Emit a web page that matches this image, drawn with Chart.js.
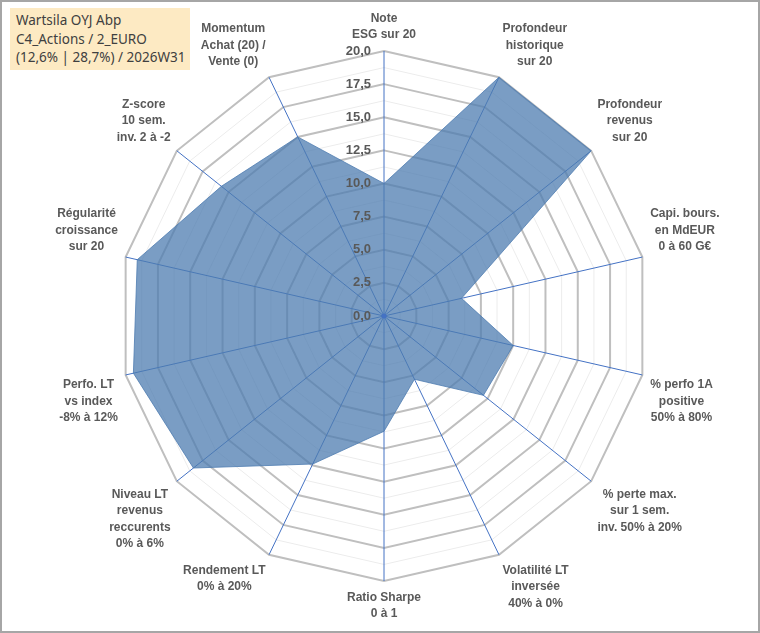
<!DOCTYPE html>
<html>
<head>
<meta charset="utf-8">
<script src="https://cdn.jsdelivr.net/npm/chart.js@4"></script>
<style>
  html, body { margin: 0; padding: 0; background: #fff; }
  #frame { position: relative; width: 756px; height: 629px; border: 2px solid #a6a6a6; }
  #title {
    position: absolute; left: 8px; top: 6px; width: 174px; padding: 3px 0 3px 6px;
    background: #fdeac3; color: #404040; font: 13.5px "Noto Sans", sans-serif; line-height: 18.5px;
  }
</style>
</head>
<body>
<div id="frame">
  <canvas id="radar" width="756" height="629"></canvas>
  <div id="title">Wartsila OYJ Abp<br>C4_Actions / 2_EURO<br>(12,6% | 28,7%) / 2026W31</div>
</div>
<script>
// axes of the radar, clockwise from the top
let labels = [
  ["Note", "ESG sur 20"],
  ["Profondeur", "historique", "sur 20"],
  ["Profondeur", "revenus", "sur 20"],
  ["Capi. bours.", "en MdEUR", "0 à 60 G€"],
  ["% perfo 1A", "positive", "50% à 80%"],
  ["% perte max.", "sur 1 sem.", "inv. 50% à 20%"],
  ["Volatilité LT", "inversée", "40% à 0%"],
  ["Ratio Sharpe", "0 à 1"],
  ["Rendement LT", "0% à 20%"],
  ["Niveau LT", "revenus", "reccurents", "0% à 6%"],
  ["Perfo. LT", "vs index", "-8% à 12%"],
  ["Régularité", "croissance", "sur 20"],
  ["Z-score", "10 sem.", "inv. 2 à -2"],
  ["Momentum", "Achat (20) /", "Vente (0)"]
];
// scores sur 20
let scores = [10, 20, 20, 6, 10, 9.6, 5.3, 8.7, 12.4, 18.4, 19.4, 19.1, 15.7, 15];
// labelled rings
let tickValues = [0, 2.5, 5, 7.5, 10, 12.5, 15, 17.5, 20];

const labelFont = 'bold 12px "Liberation Sans", Arial, sans-serif';
const labelLine = 16.5;

// tick labels left of the vertical axis + centred point labels, drawn above the fill
const overlay = {
  id: 'overlay',
  afterDatasetsDraw(chart) {
    const r = chart.scales.r;
    const c = chart.ctx;
    c.save();
    c.font = 'bold 13px "Liberation Sans", Arial, sans-serif';
    c.fillStyle = '#595959';
    c.textAlign = 'right';
    c.textBaseline = 'middle';
    tickValues.forEach(v => {
      const y = r.yCenter - r.getDistanceFromCenterForValue(v);
      c.fillText(v.toFixed(1).replace('.', ','), r.xCenter - 13, y);
    });

    // point labels: re-use the boxes the scale laid out, but centre each line
    c.font = labelFont;
    c.textAlign = 'center';
    (r._pointLabelItems || []).forEach((item, i) => {
      const lines = labels[i];
      const cx = (item.left + item.right) / 2;
      const cy = (item.top + item.bottom) / 2;
      const y0 = cy - (lines.length - 1) * labelLine / 2;
      lines.forEach((t, k) => c.fillText(t, cx, y0 + k * labelLine));
    });

    c.fillStyle = '#4472c4';
    c.beginPath();
    c.arc(r.xCenter, r.yCenter, 2.5, 0, Math.PI * 2);
    c.fill();
    c.restore();
  }
};

const ctx = document.getElementById('radar').getContext('2d');
window.radar = new Chart(ctx, {
  type: 'radar',
  data: {
    labels: labels,
    datasets: [{
      label: 'Wartsila OYJ Abp',
      data: scores,
      backgroundColor: 'rgba(78,124,176,0.75)',
      borderColor: 'rgba(78,124,176,0.8)',
      borderWidth: 1,
      pointRadius: 0,
      fill: true
    }]
  },
  options: {
    responsive: false,
    animation: false,
    layout: { padding: { top: 8, bottom: 8, left: 14, right: 0 } },
    plugins: {
      legend: { display: false },
      tooltip: { enabled: false }
    },
    scales: {
      r: {
        min: 0,
        max: 20,
        ticks: { stepSize: 1.25, display: false },
        grid: {
          color: (c) => (c.tick && c.tick.value % 2.5 === 0) ? '#bfbfbf' : '#ececec',
          lineWidth: (c) => (c.tick && c.tick.value % 2.5 === 0) ? 2 : 1
        },
        angleLines: { color: '#4472c4', lineWidth: 1 },
        pointLabels: {
          color: 'rgba(0,0,0,0)',
          padding: 8,
          font: { family: '"Liberation Sans", Arial, sans-serif', size: 12, weight: 'bold', lineHeight: 1.375 }
        }
      }
    }
  },
  plugins: [overlay]
});
</script>
</body>
</html>
